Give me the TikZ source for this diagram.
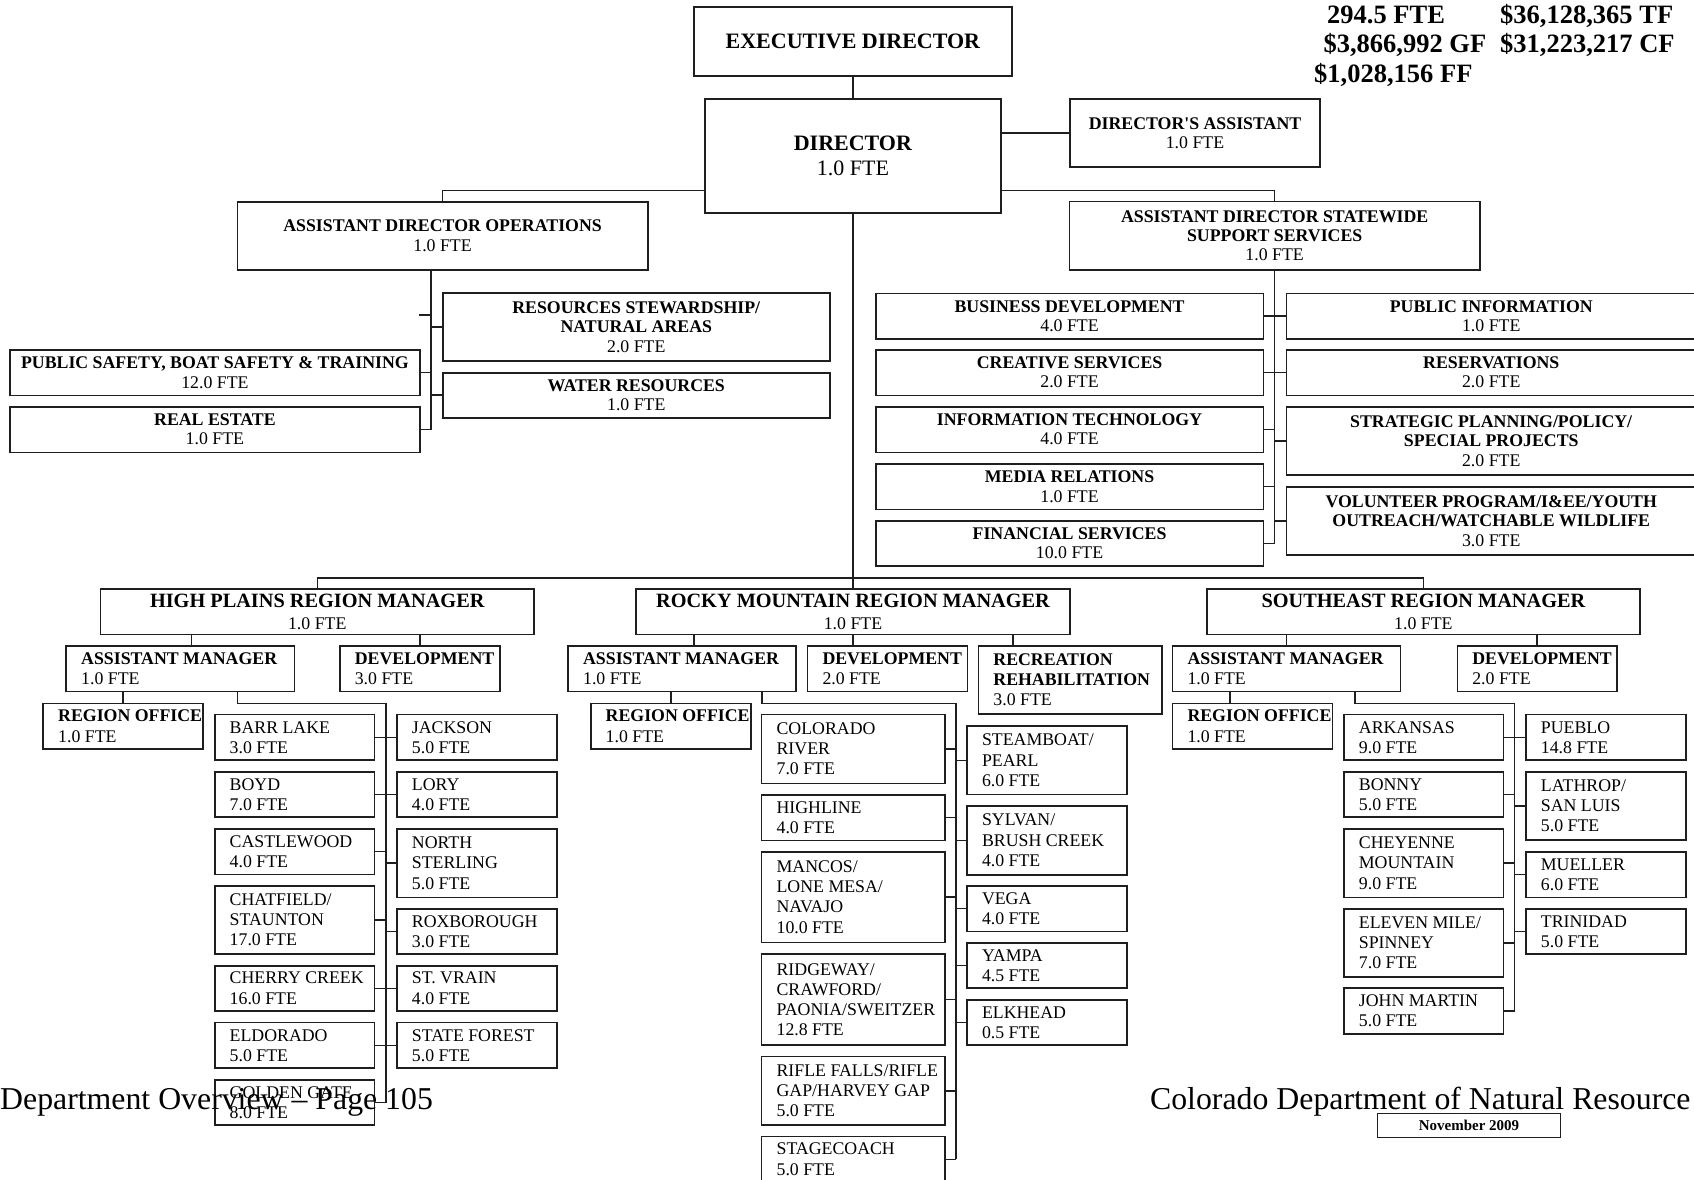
\documentclass[tikz,border=0pt]{standalone}
\usepackage{fontspec}
\setmainfont{Liberation Serif}

% box with centred text: name, x1, y1, x2, y2, text style, text
\newcommand\cunit[7]{%
  \pgfmathsetmacro\uw{#4-#2}\pgfmathsetmacro\uh{#5-#3}%
  \node[unitbox, anchor=north west, minimum width=\uw pt, minimum height=\uh pt] (#1) at (#2,#3) {};
  \node[#6] (#1-t) at (#1.center) {#7};
}
% box with left-aligned text: name, x1, y1, x2, y2, text
\newcommand\lunit[6]{%
  \pgfmathsetmacro\uw{#4-#2}\pgfmathsetmacro\uh{#5-#3}%
  \node[unitbox, anchor=north west, minimum width=\uw pt, minimum height=\uh pt] (#1) at (#2,#3) {};
  \node[lowtext, anchor=west] (#1-t) at ([xshift=14.8pt]#1.west) {#6};
}

\begin{document}
\begin{tikzpicture}[x=1pt, y=-1pt,
  unitbox/.style={draw=black!88, line width=1.6pt, inner sep=0pt, outer sep=0pt, fill=white},
  link/.style={draw=black!88, line width=1.5pt},
  toptext/.style={align=center, inner sep=0pt, font=\fontsize{17.8}{19.4}\selectfont},
  bigtext/.style={align=center, inner sep=0pt, font=\fontsize{22}{25}\selectfont},
  regtext/.style={align=center, inner sep=0pt, font=\fontsize{17.8}{21.6}\selectfont},
  lowtext/.style={align=left, inner sep=0pt, font=\fontsize{17.8}{20.2}\selectfont},
  figtext/.style={anchor=base west, inner sep=0pt, font=\fontsize{26.5}{30}\selectfont\bfseries},
  foottext/.style={anchor=base west, inner sep=0pt, font=\fontsize{31.8}{36}\selectfont},
]
\path[use as bounding box] (0,0) rectangle (1694,1180);
\clip (0,0) rectangle (1694,1180);
\fill[white] (0,0) rectangle (1694,1180);

% ---------- budget figures ----------
\node[figtext] (fte)  at (1327,23.3)   {294.5 FTE};
\node[figtext] (tf)   at (1500,23.3)   {\$36,128,365 TF};
\node[figtext] (gf)   at (1323.3,53)   {\$3,866,992 GF};
\node[figtext] (cf)   at (1500,53)     {\$31,223,217 CF};
\node[figtext] (ff)   at (1314,82.7)   {\$1,028,156 FF};

% ---------- executive level ----------
\cunit{exec}{694}{7}{1012}{76}{bigtext}{\textbf{EXECUTIVE DIRECTOR}}
\cunit{dir}{705}{99}{1001}{213}{bigtext}{\textbf{DIRECTOR}\\1.0 FTE}
\cunit{da}{1070}{99}{1320}{167}{toptext}{\textbf{DIRECTOR\textquotesingle S ASSISTANT}\\1.0 FTE}
\cunit{ado}{237.4}{201.7}{647.7}{270}{toptext}{\textbf{ASSISTANT DIRECTOR OPERATIONS}\\1.0 FTE}
\cunit{asss}{1069.6}{201.3}{1479.7}{270}{toptext}{\textbf{ASSISTANT DIRECTOR STATEWIDE}\\\textbf{SUPPORT SERVICES}\\1.0 FTE}

\draw[link] (exec) -- (dir);
\draw[link] (dir.east |- da.west) -- (da.west);
\draw[link] ([yshift=-34.3pt]dir.west) -| (ado.north);
\draw[link] ([yshift=-34.3pt]dir.east) -| (asss.north);

% ---------- operations ----------
\cunit{rs}{442.8}{292.7}{829.8}{361}{toptext}{\textbf{RESOURCES STEWARDSHIP/}\\\textbf{NATURAL AREAS}\\2.0 FTE}
\cunit{wr}{442.8}{372.7}{829.8}{417.7}{toptext}{\textbf{WATER RESOURCES}\\1.0 FTE}
\cunit{ps}{9.8}{350}{420}{395.3}{toptext}{\textbf{PUBLIC SAFETY, BOAT SAFETY \& TRAINING}\\12.0 FTE}
\cunit{re}{9.8}{406.7}{420}{452.3}{toptext}{\textbf{REAL ESTATE}\\1.0 FTE}

\coordinate (opsx) at (431,0);
\coordinate (opsstub) at (419.3,315);
\draw[link] (ado.south -| opsx) -- (re.east -| opsx);
\draw[link] (opsstub) -- (opsstub -| opsx);
\foreach \n in {rs,wr} \draw[link] (\n.west) -- (\n.west -| opsx);
\foreach \n in {ps,re} \draw[link] (\n.east) -- (\n.east -| opsx);

% ---------- statewide support services ----------
\cunit{bd}{875.8}{293.3}{1263.3}{338.7}{toptext}{\textbf{BUSINESS DEVELOPMENT}\\4.0 FTE}
\cunit{cs}{875.8}{349.7}{1263.3}{395.3}{toptext}{\textbf{CREATIVE SERVICES}\\2.0 FTE}
\cunit{it}{875.8}{406.7}{1263.3}{452.3}{toptext}{\textbf{INFORMATION TECHNOLOGY}\\4.0 FTE}
\cunit{mr}{875.8}{464}{1263.3}{509.3}{toptext}{\textbf{MEDIA RELATIONS}\\1.0 FTE}
\cunit{fs}{875.8}{520.7}{1263.3}{566}{toptext}{\textbf{FINANCIAL SERVICES}\\10.0 FTE}
\cunit{pi}{1286.5}{293.3}{1696}{338.7}{toptext}{\textbf{PUBLIC INFORMATION}\\1.0 FTE}
\cunit{res}{1286.5}{349.7}{1696}{395.3}{toptext}{\textbf{RESERVATIONS}\\2.0 FTE}
\cunit{sp}{1286.5}{406.7}{1696}{475}{toptext}{\textbf{STRATEGIC PLANNING/POLICY/}\\\textbf{SPECIAL PROJECTS}\\2.0 FTE}
\cunit{vp}{1286.5}{486.7}{1696}{555}{toptext}{\textbf{VOLUNTEER PROGRAM/I\&EE/YOUTH}\\\textbf{OUTREACH/WATCHABLE WILDLIFE}\\3.0 FTE}

\draw[link] (asss.south) -- (asss.south |- fs.east);
\foreach \n in {bd,cs,it,mr,fs} \draw[link] (\n.east) -- (\n.east -| asss.south);
\foreach \n in {pi,res,sp,vp} \draw[link] (\n.west) -- (\n.west -| asss.south);

% ---------- regions ----------
\cunit{hp}{100.6}{588.9}{533.9}{634.3}{regtext}{{\bfseries\fontsize{20.3}{21.6}\selectfont HIGH PLAINS REGION MANAGER}\\1.0 FTE}
\cunit{rm}{636.2}{588.9}{1069.8}{634.3}{regtext}{{\bfseries\fontsize{20.3}{21.6}\selectfont ROCKY MOUNTAIN REGION MANAGER}\\1.0 FTE}
\cunit{se}{1206.8}{588.9}{1640}{634.3}{regtext}{{\bfseries\fontsize{20.3}{21.6}\selectfont SOUTHEAST REGION MANAGER}\\1.0 FTE}

\coordinate (bus) at (853,578);
\draw[link] (dir.south) -- (rm.north);
\draw[link] (hp.north) |- (bus) -| (se.north);

% ---------- High Plains ----------
\lunit{hpam}{66.2}{646.2}{294.3}{691.3}{\textbf{ASSISTANT MANAGER}\\1.0 FTE}
\lunit{hpdev}{339.8}{646.2}{499.8}{691.3}{\textbf{DEVELOPMENT}\\3.0 FTE}
\lunit{hpro}{43.2}{703.5}{203.2}{749}{\textbf{REGION OFFICE}\\1.0 FTE}

\lunit{barr}{214.7}{714.6}{374.3}{760.1}{BARR LAKE\\3.0 FTE}
\lunit{boyd}{214.7}{772}{374.3}{817}{BOYD\\7.0 FTE}
\lunit{castle}{214.7}{828.9}{374.3}{874.4}{CASTLEWOOD\\4.0 FTE}
\lunit{chat}{214.7}{885.8}{374.3}{954.2}{CHATFIELD/\\STAUNTON\\17.0 FTE}
\lunit{cherry}{214.7}{965.7}{374.3}{1010.8}{CHERRY CREEK\\16.0 FTE}
\lunit{eldo}{214.7}{1022.6}{374.3}{1068.1}{ELDORADO\\5.0 FTE}
\lunit{golden}{214.7}{1080}{374.3}{1125}{GOLDEN GATE\\8.0 FTE}
\lunit{jackson}{396.9}{714.6}{556.8}{760.1}{JACKSON\\5.0 FTE}
\lunit{lory}{396.9}{772}{556.8}{817}{LORY\\4.0 FTE}
\lunit{nster}{396.9}{828.9}{556.8}{897.3}{NORTH\\STERLING\\5.0 FTE}
\lunit{roxb}{396.9}{908.8}{556.8}{954.2}{ROXBOROUGH\\3.0 FTE}
\lunit{stvrain}{396.9}{965.7}{556.8}{1010.8}{ST. VRAIN\\4.0 FTE}
\lunit{stforest}{396.9}{1022.6}{556.8}{1068.1}{STATE FOREST\\5.0 FTE}

\draw[link] ([xshift=11.45pt]hpam.north) -- ([xshift=11.45pt]hpam.north |- hp.south);
\draw[link] (hpdev.north) -- (hpdev.north |- hp.south);
\draw[link] (hpro.north) -- (hpro.north |- hpam.south);
\coordinate (hpspine) at (385.8,703.5);
\draw[link] ([xshift=57.05pt]hpam.south) |- (hpspine) -- (hpspine |- golden.east);
\foreach \n in {barr,boyd,castle,chat,cherry,eldo,golden} \draw[link] (\n.east) -- (\n.east -| hpspine);
\foreach \n in {jackson,lory,nster,roxb,stvrain,stforest} \draw[link] (\n.west) -- (\n.west -| hpspine);

% ---------- Rocky Mountain ----------
\lunit{rmam}{568.1}{646.2}{796}{691.3}{\textbf{ASSISTANT MANAGER}\\1.0 FTE}
\lunit{rmdev}{807.5}{646.2}{967.3}{691.3}{\textbf{DEVELOPMENT}\\2.0 FTE}
\lunit{rmrr}{978.4}{645.7}{1161.7}{714}{\textbf{RECREATION}\\\textbf{REHABILITATION}\\3.0 FTE}
\lunit{rmro}{590.7}{703.5}{750.9}{749}{\textbf{REGION OFFICE}\\1.0 FTE}

\lunit{colriver}{761.6}{714.6}{944.8}{783.4}{COLORADO\\RIVER\\7.0 FTE}
\lunit{highline}{761.6}{794.9}{944.8}{840.3}{HIGHLINE\\4.0 FTE}
\lunit{mancos}{761.6}{851.8}{944.8}{942.4}{MANCOS/\\LONE MESA/\\NAVAJO\\10.0 FTE}
\lunit{ridgeway}{761.6}{954.2}{944.8}{1045.2}{RIDGEWAY/\\CRAWFORD/\\PAONIA/SWEITZER\\12.8 FTE}
\lunit{rifle}{761.6}{1056.6}{944.8}{1125}{RIFLE FALLS/RIFLE\\GAP/HARVEY GAP\\5.0 FTE}
\lunit{stage}{761.6}{1136.5}{944.8}{1182}{STAGECOACH\\5.0 FTE}
\lunit{steam}{967}{726.1}{1127.1}{794.5}{STEAMBOAT/\\PEARL\\6.0 FTE}
\lunit{sylvan}{967}{806}{1127.1}{874.7}{SYLVAN/\\BRUSH CREEK\\4.0 FTE}
\lunit{vega}{967}{885.8}{1127.1}{931.3}{VEGA\\4.0 FTE}
\lunit{yampa}{967}{942.8}{1127.1}{988.2}{YAMPA\\4.5 FTE}
\lunit{elk}{967}{999.7}{1127.1}{1045.2}{ELKHEAD\\0.5 FTE}

\draw[link] ([xshift=11.85pt]rmam.north) -- ([xshift=11.85pt]rmam.north |- rm.south);
\draw[link] (rm.south) -- (rm.south |- rmdev.north);
\draw[link] ([xshift=-57.2pt]rmrr.north) -- ([xshift=-57.2pt]rmrr.north |- rm.south);
\draw[link] (rmro.north) -- (rmro.north |- rmam.south);
\coordinate (rmspine) at (955.9,703.5);
\draw[link] ([xshift=79.95pt]rmam.south) |- (rmspine) -- (rmspine |- stage.east);
\foreach \n in {colriver,highline,mancos,ridgeway,rifle,stage} \draw[link] (\n.east) -- (\n.east -| rmspine);
\foreach \n in {steam,sylvan,vega,yampa,elk} \draw[link] (\n.west) -- (\n.west -| rmspine);

% ---------- Southeast ----------
\lunit{seam}{1172.5}{646.2}{1400.4}{691.3}{\textbf{ASSISTANT MANAGER}\\1.0 FTE}
\lunit{sedev}{1457.3}{646.2}{1617}{691.3}{\textbf{DEVELOPMENT}\\2.0 FTE}
\lunit{sero}{1172.5}{703.5}{1332.6}{749}{\textbf{REGION OFFICE}\\1.0 FTE}

\lunit{ark}{1343.9}{714.6}{1503.3}{760.1}{ARKANSAS\\9.0 FTE}
\lunit{bonny}{1343.9}{772}{1503.3}{817}{BONNY\\5.0 FTE}
\lunit{cheyenne}{1343.9}{828.9}{1503.3}{897.3}{CHEYENNE\\MOUNTAIN\\9.0 FTE}
\lunit{eleven}{1343.9}{908.8}{1503.3}{976.8}{ELEVEN MILE/\\SPINNEY\\7.0 FTE}
\lunit{john}{1343.9}{988.2}{1503.3}{1033.7}{JOHN MARTIN\\5.0 FTE}
\lunit{pueblo}{1525.9}{714.6}{1685.9}{760.1}{PUEBLO\\14.8 FTE}
\lunit{lathrop}{1525.9}{772}{1685.9}{840}{LATHROP/\\SAN LUIS\\5.0 FTE}
\lunit{mueller}{1525.9}{851.8}{1685.9}{897.3}{MUELLER\\6.0 FTE}
\lunit{trinidad}{1525.9}{908.8}{1685.9}{954.2}{TRINIDAD\\5.0 FTE}

\draw[link] (seam.north) -- (seam.north |- se.south);
\draw[link] (sedev.north) -- (sedev.north |- se.south);
\draw[link] ([xshift=-22.75pt]sero.north) -- ([xshift=-22.75pt]sero.north |- seam.south);
\coordinate (sespine) at (1514.6,703.5);
\draw[link] ([xshift=68.35pt]seam.south) |- (sespine) -- (sespine |- john.east);
\foreach \n in {ark,bonny,cheyenne,eleven,john} \draw[link] (\n.east) -- (\n.east -| sespine);
\foreach \n in {pueblo,lathrop,mueller,trinidad} \draw[link] (\n.west) -- (\n.west -| sespine);

% ---------- page footer ----------
\node[foottext] (pagefoot) at (0,1109.6) {Department Overview \textendash{} Page 105};
\node[foottext] (deptfoot) at (1149.9,1109.6) {Colorado Department of Natural Resource};
\cunit{datebox}{1377.5}{1113.6}{1560.5}{1137.3}{toptext}{\fontsize{15}{17}\selectfont\bfseries November 2009}
\end{tikzpicture}
\end{document}
